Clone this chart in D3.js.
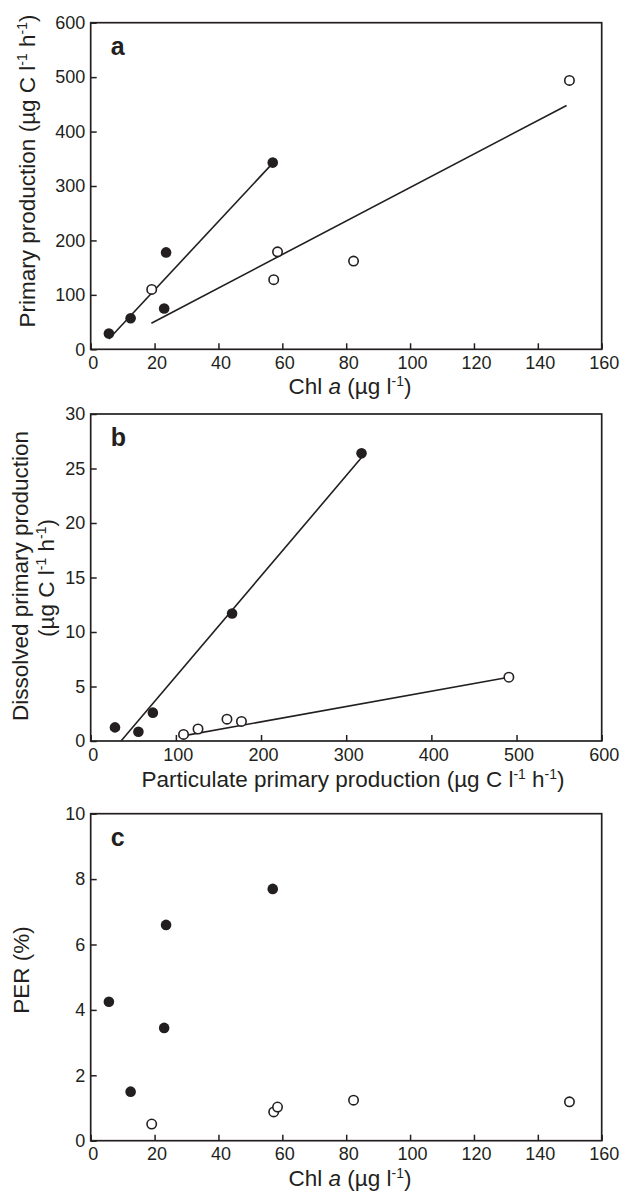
<!DOCTYPE html>
<html>
<head>
<meta charset="utf-8">
<script src="https://cdn.jsdelivr.net/npm/d3@7"></script>
<style>
  html, body { margin: 0; padding: 0; background: #fff; }
  svg { display: block; }
  text { font-family: "Liberation Sans", Arial, Helvetica, sans-serif; fill: #231f20; }
</style>
</head>
<body>
<svg id="chart" width="620" height="1191"></svg>
<script>
// ---------- data ----------
// Panel a & c: Chl a values (µg l-1)
const chlFilled = [5.7, 12.5, 23.0, 23.6, 57.0];
const chlOpen   = [19.1, 57.3, 58.5, 82.3, 149.9];
// Panel a: primary production (µg C l-1 h-1)
const ppFilled = [29, 57, 75, 178, 343];
const ppOpen   = [110, 128, 179, 162, 494];
// Panel b: particulate vs dissolved primary production
const partFilled = [28.5, 56, 73, 166, 318];
const dissFilled = [1.25, 0.85, 2.6, 11.7, 26.4];
const partOpen   = [109, 126, 160, 177, 491];
const dissOpen   = [0.6, 1.1, 2.0, 1.8, 5.85];
// Panel c: PER (%)
const perFilled = [4.25, 1.5, 3.45, 6.6, 7.7];
const perOpen   = [0.51, 0.88, 1.03, 1.24, 1.19];
// Regression lines (endpoints in data units)
const fitAFilledX = [5.7, 57];   const fitAFilledY = [19, 342];
const fitAOpenX   = [19, 149];   const fitAOpenY   = [48, 448];
const fitBFilledX = [35.6, 318]; const fitBFilledY = [0, 26];
const fitBOpenX   = [103.5, 491]; const fitBOpenY  = [0.4, 5.85];
// Tick values
const ticksChl  = [0, 20, 40, 60, 80, 100, 120, 140, 160];
const ticksPP   = [0, 100, 200, 300, 400, 500, 600];
const ticksPart = [0, 100, 200, 300, 400, 500, 600];
const ticksDiss = [0, 5, 10, 15, 20, 25, 30];
const ticksPER  = [0, 2, 4, 6, 8, 10];

// ---------- layout ----------
const svg = d3.select("#chart");
const L = 90.7, R = 601.7;
const ink = "#231f20";

function panel(cfg) {
  const x = d3.scaleLinear().domain(cfg.xd).range([L, R]);
  const y = d3.scaleLinear().domain(cfg.yd).range([cfg.bottom, cfg.top]);
  const g = svg.append("g");

  // lines
  cfg.fits.forEach(f => {
    g.append("path")
      .datum(d3.zip(f[0], f[1]))
      .attr("d", d3.line().x(d => x(d[0])).y(d => y(d[1])))
      .attr("fill", "none").attr("stroke", ink).attr("stroke-width", 1.6);
  });

  // axes (ticks inward)
  const xa = d3.axisBottom(x).tickValues(cfg.xt).tickSize(-6).tickPadding(7).tickFormat(d3.format("d"));
  const ya = d3.axisLeft(y).tickValues(cfg.yt).tickSize(-6).tickPadding(5.5).tickFormat(d3.format("d"));
  const gx = g.append("g").attr("transform", `translate(0,${cfg.bottom})`).call(xa);
  const gy = g.append("g").attr("transform", `translate(${L},0)`).call(ya);
  [gx, gy].forEach(a => {
    a.select(".domain").remove();
    a.selectAll("line").attr("stroke", ink).attr("stroke-width", 1.5);
    a.selectAll("text").attr("font-size", 18).attr("fill", ink)
      .style("font-family", "'Liberation Sans', Arial, sans-serif");
  });
  gx.selectAll("text").attr("dy", "0.71em").attr("dx", 2);

  // frame
  g.append("rect").attr("x", L).attr("y", cfg.top)
    .attr("width", R - L).attr("height", cfg.bottom - cfg.top)
    .attr("fill", "none").attr("stroke", ink).attr("stroke-width", 1.7);

  // points
  g.selectAll(".pf").data(d3.zip(cfg.fx, cfg.fy)).join("circle")
    .attr("cx", d => x(d[0])).attr("cy", d => y(d[1])).attr("r", 5.3)
    .attr("fill", ink);
  g.selectAll(".po").data(d3.zip(cfg.ox, cfg.oy)).join("circle")
    .attr("cx", d => x(d[0])).attr("cy", d => y(d[1])).attr("r", 4.7)
    .attr("fill", "#fff").attr("stroke", ink).attr("stroke-width", 1.6);

  // panel letter
  g.append("text").attr("x", L + 20).attr("y", cfg.top + 32)
    .attr("font-size", 25).attr("font-weight", "bold").text(cfg.letter);

  return g;
}

// Panel a
panel({ top: 22.7, bottom: 349.3, xd: [0, 160], yd: [0, 600], xt: ticksChl, yt: ticksPP,
  fx: chlFilled, fy: ppFilled, ox: chlOpen, oy: ppOpen, letter: "a",
  fits: [[fitAFilledX, fitAFilledY], [fitAOpenX, fitAOpenY]] });
// Panel b
panel({ top: 414, bottom: 741, xd: [0, 600], yd: [0, 30], xt: ticksPart, yt: ticksDiss,
  fx: partFilled, fy: dissFilled, ox: partOpen, oy: dissOpen, letter: "b",
  fits: [[fitBFilledX, fitBFilledY], [fitBOpenX, fitBOpenY]] });
// Panel c
panel({ top: 813.7, bottom: 1140.7, xd: [0, 160], yd: [0, 10], xt: ticksChl, yt: ticksPER,
  fx: chlFilled, fy: perFilled, ox: chlOpen, oy: perOpen, letter: "c", fits: [] });

const TF = 22.5;
function supSpan(t, s) {
  t.append("tspan").attr("font-size", "0.62em").attr("dy", "-0.55em").text(s);
}
// x titles
function chlTitle(yb) {
  const t = svg.append("text").attr("x", 350).attr("y", yb).attr("text-anchor", "middle").attr("font-size", TF);
  t.append("tspan").text("Chl ");
  t.append("tspan").attr("font-style", "italic").text("a");
  t.append("tspan").text(" (µg l");
  supSpan(t, "-1");
  t.append("tspan").attr("dy", "0.34em").text(")");
}
chlTitle(394);
chlTitle(1186);
function unitSpans(t, lead) {
  t.append("tspan").text(lead + "(µg C l");
  supSpan(t, "-1");
  t.append("tspan").attr("dy", "0.34em").text(" h");
  supSpan(t, "-1");
  t.append("tspan").attr("dy", "0.34em").text(")");
}
{
  const t = svg.append("text").attr("x", 353).attr("y", 787).attr("text-anchor", "middle").attr("font-size", TF);
  unitSpans(t, "Particulate primary production ");
}
// y titles
{
  const t = svg.append("text").attr("transform", "translate(35,171) rotate(-90)")
    .attr("text-anchor", "middle").attr("font-size", TF);
  unitSpans(t, "Primary production ");
}
{
  svg.append("text").attr("transform", "translate(27.5,576) rotate(-90)")
    .attr("text-anchor", "middle").attr("font-size", TF).text("Dissolved primary production");
  const t = svg.append("text").attr("transform", "translate(54,578) rotate(-90)")
    .attr("text-anchor", "middle").attr("font-size", TF);
  unitSpans(t, "");
}
svg.append("text").attr("transform", "translate(28.5,970) rotate(-90)")
  .attr("text-anchor", "middle").attr("font-size", TF).text("PER (%)");
</script>
</body>
</html>
